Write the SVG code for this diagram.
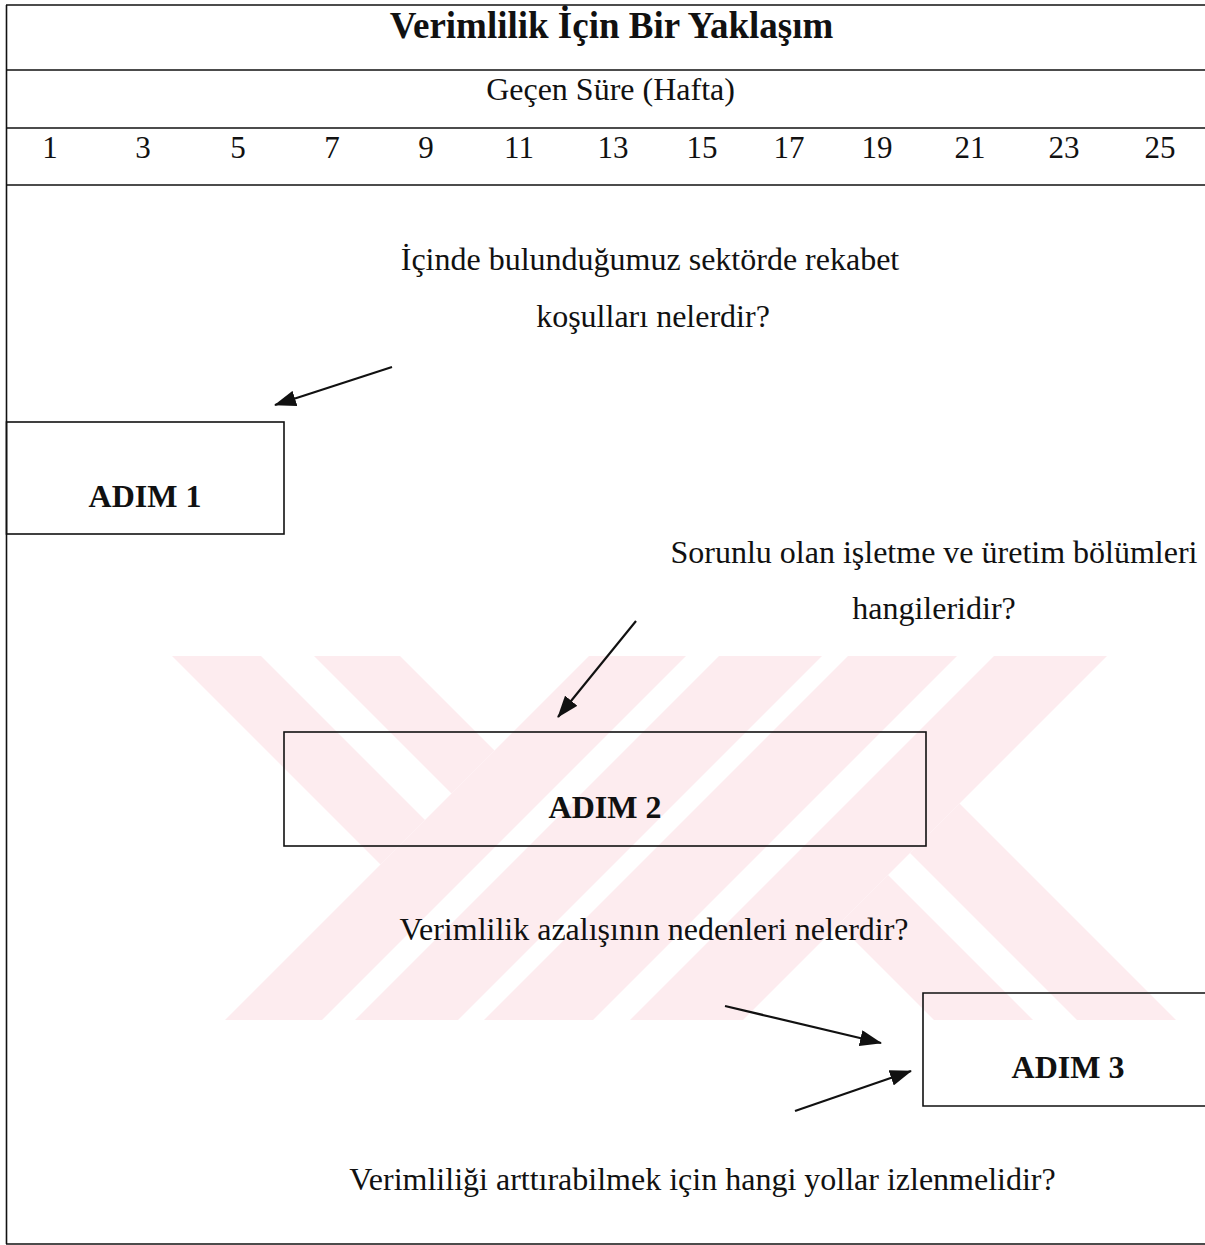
<svg xmlns="http://www.w3.org/2000/svg" width="1205" height="1245" viewBox="0 0 1205 1245">
  <style>
    text { font-family: "Liberation Serif", "Times New Roman", serif; fill: #111; }
    .title { font-size: 37px; font-weight: bold; text-anchor: middle; }
    .txt { font-size: 32px; text-anchor: middle; }
    .num { font-size: 31px; text-anchor: middle; }
    .step { font-size: 32px; font-weight: bold; text-anchor: middle; }
    .rule { stroke: #111; stroke-width: 1.6; fill: none; }
    .box { stroke: #111; stroke-width: 1.6; fill: none; }
    .wm { fill: #fdecef; stroke: none; }
    .conn { stroke: #111; stroke-width: 2.2; fill: none; marker-end: url(#arrow); }
  </style>
  <defs>
    <marker id="arrow" markerUnits="userSpaceOnUse" markerWidth="22" markerHeight="16" refX="21" refY="8" orient="auto">
      <path d="M0,0 L22,8 L0,16 Z" fill="#111"/>
    </marker>
  </defs>
  <rect x="0" y="0" width="1205" height="1245" fill="#ffffff"/>

  <g id="watermark">
    <polygon class="wm" points="172,656 261,656 425,820 380.5,864.5"/>
    <polygon class="wm" points="314,656 400,656 494.5,750.5 451.5,793.5"/>
    <polygon class="wm" points="589,656 686,656 322,1020 225,1020"/>
    <polygon class="wm" points="719,656 822,656 458,1020 355,1020"/>
    <polygon class="wm" points="848,656 957,656 593,1020 484,1020"/>
    <polygon class="wm" points="994,656 1107,656 743,1020 630,1020"/>
    <polygon class="wm" points="959.5,803.5 1176,1020 1077,1020 910,853"/>
    <polygon class="wm" points="888,875 1033,1020 934,1020 838.5,924.5"/>
  </g>

  <g id="frame">
    <line class="rule" x1="6.5" y1="5" x2="6.5" y2="1244"/>
    <line class="rule" x1="6" y1="5" x2="1205" y2="5"/>
    <line class="rule" x1="6" y1="70" x2="1205" y2="70"/>
    <line class="rule" x1="6" y1="128" x2="1205" y2="128"/>
    <line class="rule" x1="6" y1="185" x2="1205" y2="185"/>
    <line class="rule" x1="6" y1="1244" x2="1205" y2="1244"/>
  </g>

  <g id="header">
    <text class="title" x="611.5" y="38">Verimlilik İçin Bir Yaklaşım</text>
    <text class="txt" x="610.5" y="100">Geçen Süre (Hafta)</text>
    <text class="num" x="50" y="158">1</text>
    <text class="num" x="143" y="158">3</text>
    <text class="num" x="238" y="158">5</text>
    <text class="num" x="332" y="158">7</text>
    <text class="num" x="426" y="158">9</text>
    <text class="num" x="519" y="158">11</text>
    <text class="num" x="613" y="158">13</text>
    <text class="num" x="702" y="158">15</text>
    <text class="num" x="789" y="158">17</text>
    <text class="num" x="877" y="158">19</text>
    <text class="num" x="970" y="158">21</text>
    <text class="num" x="1064" y="158">23</text>
    <text class="num" x="1160" y="158">25</text>
  </g>

  <g id="q1">
    <text class="txt" x="650" y="270">İçinde bulunduğumuz sektörde rekabet</text>
    <text class="txt" x="653" y="327">koşulları nelerdir?</text>
  </g>
  <g id="q2">
    <text class="txt" x="934" y="563">Sorunlu olan işletme ve üretim bölümleri</text>
    <text class="txt" x="934" y="619">hangileridir?</text>
  </g>
  <g id="q3">
    <text class="txt" x="654" y="940">Verimlilik azalışının nedenleri nelerdir?</text>
  </g>
  <g id="q4">
    <text class="txt" x="702.5" y="1190">Verimliliği arttırabilmek için hangi yollar izlenmelidir?</text>
  </g>

  <g id="adim1">
    <rect class="box" x="6.5" y="422" width="277.5" height="112"/>
    <text class="step" x="145" y="507">ADIM 1</text>
  </g>
  <g id="adim2">
    <rect class="box" x="284" y="732" width="642" height="114"/>
    <text class="step" x="605" y="818">ADIM 2</text>
  </g>
  <g id="adim3">
    <path class="box" d="M1206,993 L923,993 L923,1106 L1206,1106"/>
    <text class="step" x="1068" y="1078">ADIM 3</text>
  </g>

  <g id="connectors">
    <line class="conn" x1="392" y1="367" x2="275" y2="405"/>
    <line class="conn" x1="636" y1="621" x2="558" y2="717"/>
    <line class="conn" x1="725" y1="1006" x2="881" y2="1043"/>
    <line class="conn" x1="795" y1="1111" x2="911" y2="1071"/>
  </g>
</svg>
